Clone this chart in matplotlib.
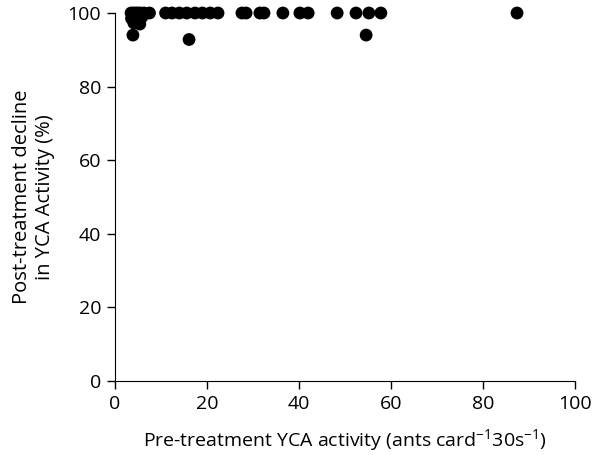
import matplotlib
matplotlib.use("Agg")
import matplotlib.pyplot as plt

plt.rcParams['font.family'] = ['Open Sans', 'DejaVu Sans']
plt.rcParams['mathtext.default'] = 'regular'

# pre-treatment activity (ants card^-1 30s^-1) and post-treatment decline (%)
pre_activity = [3.5, 4.0, 4.5, 5.0, 5.5, 6.3, 7.5, 3.6, 4.1, 4.6, 5.4, 4.3, 5.9,
                3.9, 11.0, 12.4, 14.0, 15.6, 17.4, 19.0, 20.7, 22.4, 16.1,
                27.6, 28.5, 31.5, 32.4, 36.5, 40.2, 42.0, 48.3, 52.4, 55.2,
                54.6, 57.8, 87.4]
decline = [100, 100, 100, 100, 100, 100, 100, 98.5, 97.3, 98.2, 97.0, 99.2, 99.0,
           94.0, 100, 100, 100, 100, 100, 100, 100, 100, 92.8,
           100, 100, 100, 100, 100, 100, 100, 100, 100, 100,
           94.0, 100, 100]

fig = plt.figure(figsize=(5.97, 4.55), dpi=100)
ax = fig.add_axes([0.1926, 0.1626, 0.9631 - 0.1926, 0.9714 - 0.1626])

ax.scatter(pre_activity, decline, s=85, color='black', edgecolors='none',
           clip_on=False, zorder=3)

ax.set_xlim(0, 100)
ax.set_ylim(0, 100)
ax.set_xticks(range(0, 101, 20))
ax.set_yticks(range(0, 101, 20))
ax.spines['top'].set_visible(False)
ax.spines['right'].set_visible(False)
ax.tick_params(direction='out', length=6, width=1, labelsize=14, colors='black',
               pad=4)

ax.set_xlabel('Pre-treatment YCA activity (ants card$^{-1}$30s$^{-1}$)',
              fontsize=14, labelpad=10)
ax.set_ylabel('Post-treatment decline\nin YCA Activity (%)', fontsize=14.5,
              labelpad=9)

fig.savefig('out.png', dpi=100)
